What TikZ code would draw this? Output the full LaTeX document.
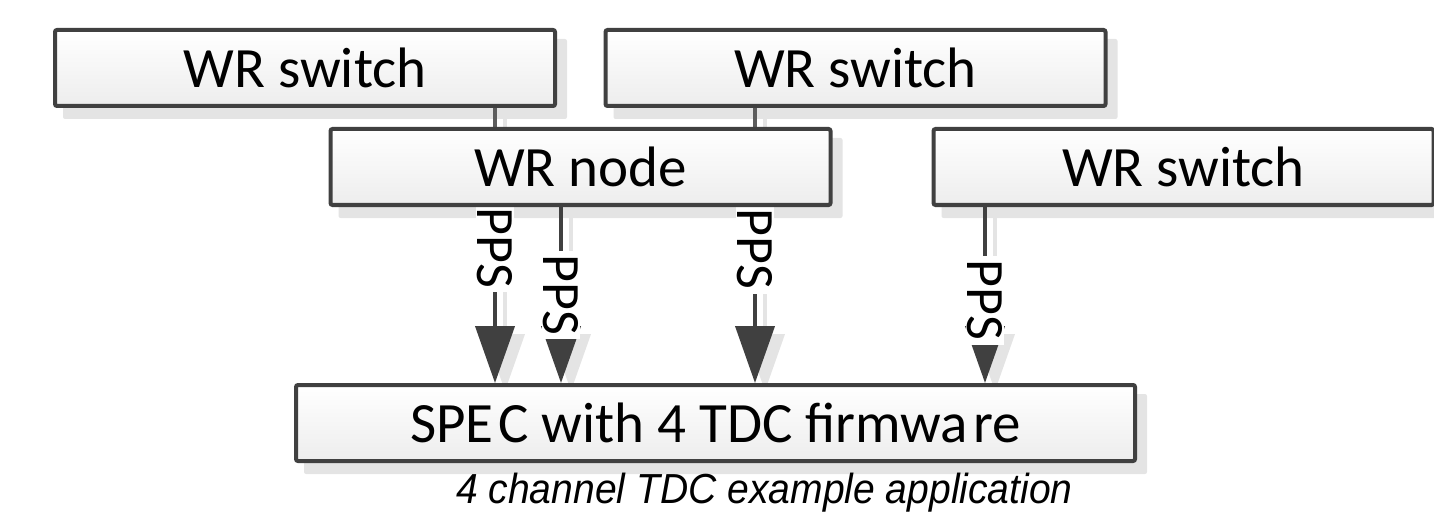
\documentclass[tikz,border=0pt]{standalone}
\usepackage{fontspec}
\setmainfont{Carlito}
\newfontfamily\capfont{Liberation Sans}
\usetikzlibrary{arrows.meta,calc}
\definecolor{wire}{HTML}{404040}
\definecolor{shade}{HTML}{E4E4E4}
\pgfdeclarelayer{shadows}
\pgfdeclarelayer{wires}
\pgfsetlayers{shadows,wires,main}

\begin{document}
\begin{tikzpicture}[x=1pt,y=-1pt,
  box/.style={draw=wire, line width=4pt, rounded corners=2pt,
    top color=white, bottom color=black!7,
    minimum width=500pt, minimum height=76pt, inner sep=0pt,
    font=\fontsize{57}{60}\selectfont},
  link/.style={draw=wire!85, line width=4pt},
  pps/.style={draw=wire, line width=4pt, -{Triangle[length=57pt,width=39pt]}},
  ppsshadow/.style={draw=shade, line width=4pt, -{Triangle[length=57pt,width=39pt]},
    transform canvas={xshift=10pt,yshift=-8pt}},
  ppslabel/.style={fill=white, rotate=-90, inner xsep=4pt, inner ysep=1pt,
    text=black, font=\fontsize{54}{54}\selectfont},
  boxshadow/.style={fill=shade, rounded corners=2pt}
]
\useasboundingbox (0,0) rectangle (1434,513);

% boxes
\node[box] (sw1)  at (305,68)    {WR switch};
\node[box] (sw2)  at (855.5,68)  {WR switch};
\node[box] (wrn)  at (580.5,167) {WR node};
\node[box] (sw3)  at (1183.5,167){WR switch};
\node[box, minimum width=839pt] (spec) at (715.5,423)
  {SPE\kern5pt C with 4 TDC firmwa\kern5pt re};

% caption
\node[anchor=base west, inner sep=0pt, xscale=0.93,
  font=\capfont\itshape\fontsize{42}{46}\selectfont] (cap) at (456,503)
  {4 channel TDC example application};

% connector columns
\coordinate (c1) at (495,0);
\coordinate (c2) at (561,0);
\coordinate (c3) at (755,0);
\coordinate (c4) at (985,0);

% box and connector shadows
\begin{pgfonlayer}{shadows}
  \foreach \n in {sw1,sw2,wrn,sw3,spec}
    \path[boxshadow] ([shift={(10,11)}]\n.south west) rectangle ([shift={(10,11)}]\n.north east);
  \path[ppsshadow] (c1 |- wrn.south) -- (c1 |- spec.north);
  \path[ppsshadow] (c2 |- wrn.south) -- (c2 |- spec.north);
  \path[ppsshadow] (c3 |- wrn.south) -- (c3 |- spec.north);
  \path[ppsshadow] (c4 |- sw3.south) -- (c4 |- spec.north);
  \draw[draw=shade, line width=4pt, transform canvas={xshift=10pt}] (c1 |- sw1.south) -- (c1 |- wrn.north);
  \draw[draw=shade, line width=4pt, transform canvas={xshift=10pt}] (c3 |- sw2.south) -- (c3 |- wrn.north);
\end{pgfonlayer}

% links and PPS signals
\begin{pgfonlayer}{wires}
  \path[link] (c1 |- sw1.south) -- (c1 |- wrn.north);
  \path[link] (c3 |- sw2.south) -- (c3 |- wrn.north);
  \path[pps] (c1 |- wrn.south) -- (c1 |- spec.north) node[ppslabel, pos=0.23] (l1) {PPS};
  \path[pps] (c2 |- wrn.south) -- (c2 |- spec.north) node[ppslabel, pos=0.50] (l2) {PPS};
  \path[pps] (c3 |- wrn.south) -- (c3 |- spec.north) node[ppslabel, pos=0.24] (l3) {PPS};
  \path[pps] (c4 |- sw3.south) -- (c4 |- spec.north) node[ppslabel, pos=0.53] (l4) {PPS};
\end{pgfonlayer}
\end{tikzpicture}
\end{document}
